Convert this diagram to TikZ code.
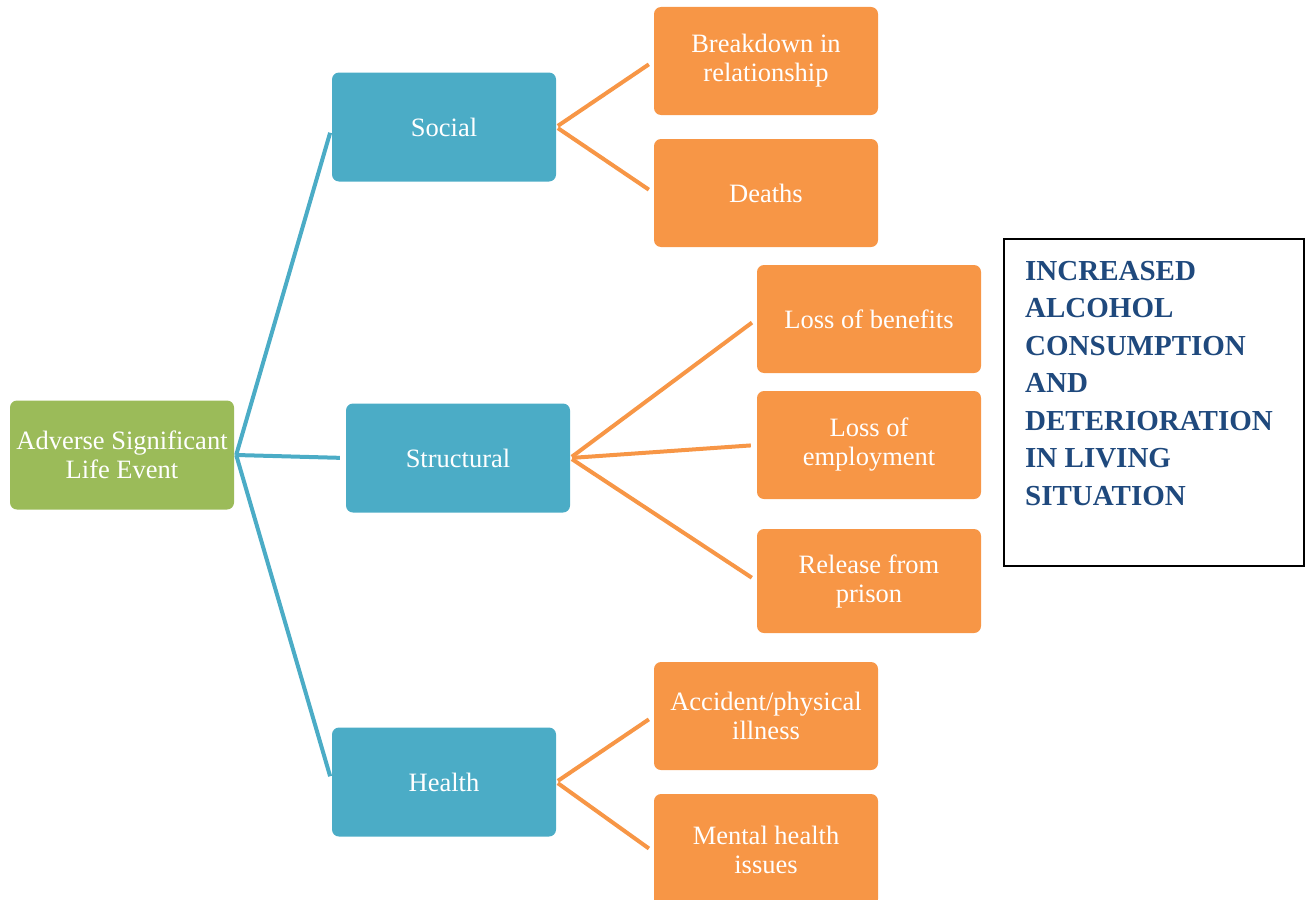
\documentclass[tikz,border=0pt]{standalone}
\usepackage{fontspec}
\setmainfont{Liberation Serif}
\definecolor{cgreen}{HTML}{9BBB59}
\definecolor{cblue}{HTML}{4BACC6}
\definecolor{corange}{HTML}{F79646}
\definecolor{ctext}{HTML}{1F497D}
\begin{document}
\begin{tikzpicture}[x=1pt,y=-1pt,
  box/.style={rounded corners=7pt, minimum width=224pt, inner sep=1pt, align=center, text=white,
    font=\fontsize{26.5}{29}\selectfont},
  gbox/.style={box, fill=cgreen, minimum height=109pt},
  bbox/.style={box, fill=cblue, minimum height=109pt},
  obox/.style={box, fill=corange, minimum height=108pt},
  bline/.style={draw=cblue, line width=4pt, shorten >=6pt},
  oline/.style={draw=corange, line width=4pt, shorten >=6pt, shorten <=2pt}]
\useasboundingbox (0,0) rectangle (1311,899);
\node[gbox] (root) at (122,455) {Adverse Significant\\Life Event};
\node[bbox] (social) at (444,127) {Social};
\node[bbox] (struct) at (458,458) {Structural};
\node[bbox] (health) at (444,782) {Health};
\node[obox] (brk) at (766,61) {Breakdown in\\relationship};
\node[obox] (death) at (766,193) {Deaths};
\node[obox] (ben) at (869,319) {Loss of benefits};
\node[obox] (emp) at (869,445) {Loss of\\employment};
\node[obox, minimum height=104pt] (pris) at (869,581) {Release from\\prison};
\node[obox] (acc) at (766,716) {Accident/physical\\illness};
\node[obox, minimum height=112pt] (ment) at (766,850) {Mental health\\issues};
\node[draw=black, line width=1.5pt, minimum width=300pt, minimum height=327pt] (res) at (1154,402.5) {};
\node[anchor=north west, align=left, text=ctext, inner sep=0pt,
  font=\bfseries\fontsize{29}{37.5}\selectfont] (restext) at (1025,261)
  {INCREASED\\ALCOHOL\\CONSUMPTION\\AND\\DETERIORATION\\IN LIVING\\SITUATION};
\coordinate (rj) at ([xshift=2pt]root.east);
\path[bline] (rj) -- ([yshift=0pt]social.west);
\path[bline] (rj) -- (struct.west);
\path[bline] (rj) -- (health.west);
\path[oline] (social.east) -- (brk.west);
\path[oline] (social.east) -- (death.west);
\path[oline] (struct.east) -- (ben.west);
\path[oline] (struct.east) -- (emp.west);
\path[oline] (struct.east) -- (pris.west);
\path[oline] (health.east) -- (acc.west);
\path[oline] (health.east) -- ([yshift=-2pt]ment.west);
\end{tikzpicture}
\end{document}
